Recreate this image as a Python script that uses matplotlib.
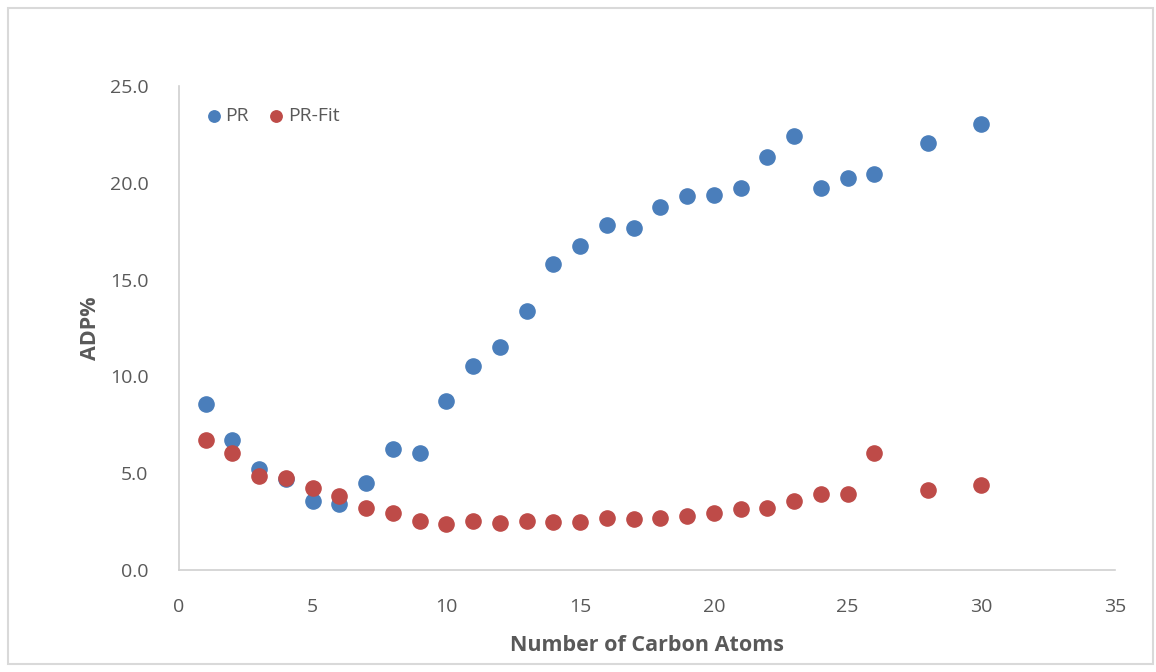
import matplotlib
matplotlib.use("Agg")
import matplotlib.pyplot as plt
from matplotlib.patches import Rectangle

carbon_pr = [1, 2, 3, 4, 5, 6, 7, 8, 9, 10, 11, 12, 13, 14, 15, 16, 17, 18, 19, 20,
             21, 22, 23, 24, 25, 26, 28, 30]
adp_pr = [8.57, 6.71, 5.22, 4.70, 3.56, 3.41, 4.49, 6.25, 6.04, 8.73, 10.54, 11.52,
          13.38, 15.81, 16.74, 17.82, 17.67, 18.75, 19.32, 19.37, 19.73, 21.33, 22.42,
          19.73, 20.25, 20.45, 22.06, 23.04]
adp_fit = [6.71, 6.04, 4.86, 4.75, 4.24, 3.82, 3.20, 2.94, 2.53, 2.38, 2.53, 2.43,
           2.53, 2.48, 2.48, 2.69, 2.63, 2.69, 2.79, 2.94, 3.15, 3.20, 3.56, 3.93,
           3.93, 6.04, 4.13, 4.39]

plt.rcParams["font.family"] = ["Open Sans", "DejaVu Sans"]
grey = "#595959"

fig = plt.figure(figsize=(11.56, 6.72), dpi=100)
fig.patches.append(Rectangle((0.007, 0.012), 0.99, 0.976, transform=fig.transFigure,
                             fill=False, edgecolor="#d9d9d9", linewidth=1.5))
ax = fig.add_axes([0.1548, 0.1518, 0.8097, 0.7202])

ax.scatter(carbon_pr, adp_pr, s=120, color="#4a7ebb", label="PR", zorder=3)
ax.scatter(carbon_pr, adp_fit, s=120, color="#be4b48", label="PR-Fit", zorder=3)

ax.set_xlim(0, 35)
ax.set_ylim(0, 25)
ax.set_xticks(range(0, 36, 5))
ax.set_yticks([0, 5, 10, 15, 20, 25])
ax.set_yticklabels([f"{v:.1f}" for v in [0, 5, 10, 15, 20, 25]])
ax.tick_params(length=0, labelsize=14, colors=grey)
ax.tick_params(axis="x", pad=20)
ax.tick_params(axis="y", pad=22)
for side in ["top", "right"]:
    ax.spines[side].set_visible(False)
for side in ["left", "bottom"]:
    ax.spines[side].set_color("#d0d0d0")
    ax.spines[side].set_linewidth(1.2)

ax.set_xlabel("Number of Carbon Atoms", fontsize=15.5, fontweight="bold", color=grey, labelpad=14)
ax.set_ylabel("ADP%", fontsize=15.5, fontweight="bold", color=grey, labelpad=6)

ax.legend(loc="upper left", bbox_to_anchor=(0.012, 0.985), ncol=2, frameon=False,
          fontsize=14, labelcolor=grey, handlelength=1.0, handletextpad=0.1,
          columnspacing=0.9, markerscale=0.75, borderaxespad=0.3)

fig.savefig("out.png", dpi=100)
